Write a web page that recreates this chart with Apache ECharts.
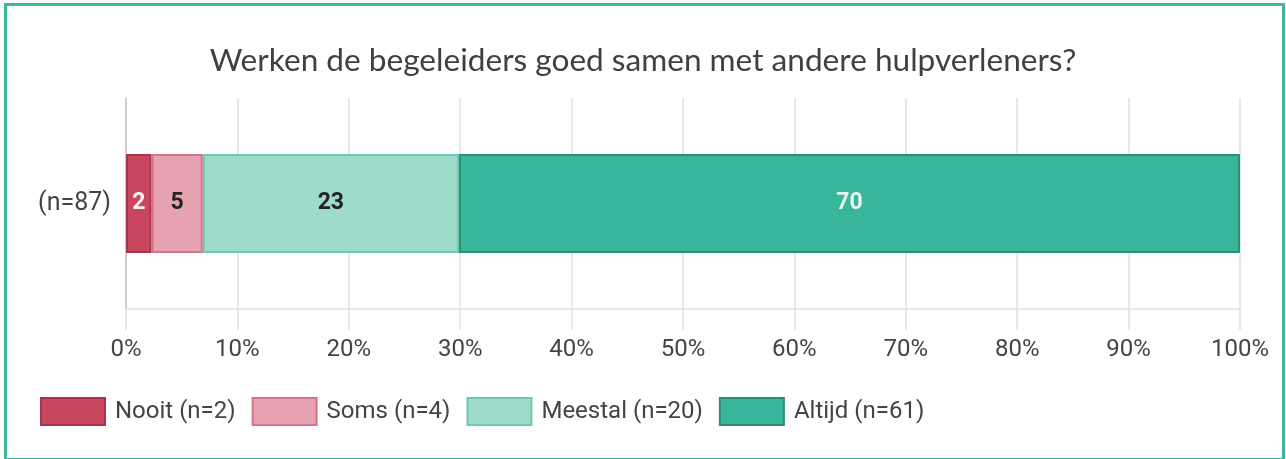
<!DOCTYPE html>
<html>
<head>
<meta charset="utf-8">
<script src="https://cdn.jsdelivr.net/npm/echarts@6/dist/echarts.min.js"></script>
<style>
  html, body { margin: 0; padding: 0; width: 1286px; height: 459px; overflow: hidden; background: #fff; }
  #frame { position: absolute; left: 4px; top: 3px; width: 1281px; height: 458px; border: 3px solid #3db89c; box-sizing: border-box; }
  #chart { position: absolute; left: 0; top: 0; width: 1286px; height: 459px; }
</style>
</head>
<body>
<div id="frame"></div>
<div id="chart"></div>
<script>
  // gegevens
  var TITLE = "Werken de begeleiders goed samen met andere hulpverleners?";
  var CATEGORIES = ["(n=87)"];
  var ANSWERS = ["Nooit", "Soms", "Meestal", "Altijd"];
  var COUNTS = [2, 4, 20, 61];
  var TICKS = ["0%", "10%", "20%", "30%", "40%", "50%", "60%", "70%", "80%", "90%", "100%"];

  var FILLS = ["#c8475e", "#e6a2ae", "#9fdbca", "#38b59a"];
  var BORDERS = ["#a8344b", "#d8728a", "#6ecab2", "#2b8f75"];
  var LABEL_COLORS = ["#f4f4f4", "#222222", "#222222", "#e6f4ef"];

  var FONT = "Roboto, 'Liberation Sans', Arial, sans-serif";
  var total = COUNTS.reduce(function (a, b) { return a + b; }, 0);

  var chart = echarts.init(document.getElementById("chart"), null, { renderer: "canvas" });

  chart.setOption({
    backgroundColor: "transparent",
    animation: false,
    title: {
      text: TITLE, left: "center", top: 40,
      textStyle: { fontFamily: "Lato, sans-serif", fontSize: 31.6, fontWeight: "normal", color: "#404040" }
    },
    grid: { left: 126, right: 46, top: 98, bottom: 150 },
    legend: {
      left: 35, top: 392, itemWidth: 64, itemHeight: 27, itemGap: 16,
      icon: "rect",
      data: ANSWERS.map(function (a, i) { return a + " (n=" + COUNTS[i] + ")"; }),
      textStyle: { fontFamily: FONT, fontSize: 24, color: "#444", padding: [0, 0, 0, 5] }
    },
    xAxis: {
      type: "value", min: 0, max: 100, interval: 10,
      axisLine: { show: true, lineStyle: { color: "#e2e2e2", width: 1.5 } },
      axisTick: { show: true, length: 21, lineStyle: { color: "#e2e2e2", width: 1.5 } },
      splitLine: { lineStyle: { color: "#e2e2e2", width: 1.5 } },
      axisLabel: {
        margin: 29, fontFamily: FONT, fontSize: 24, color: "#444",
        formatter: function (v) { return TICKS[Math.round(v / 10)]; }
      }
    },
    yAxis: {
      type: "category", data: CATEGORIES,
      axisLine: { show: true, lineStyle: { color: "#c8c8c8", width: 1.5 } },
      axisTick: { show: false },
      axisLabel: { margin: 15, fontFamily: FONT, fontSize: 25, color: "#444" }
    },
    series: ANSWERS.map(function (a, i) {
      return {
        name: a + " (n=" + COUNTS[i] + ")",
        type: "bar", stack: "tot", barWidth: 99,
        data: [COUNTS[i] / total * 100],
        itemStyle: { color: FILLS[i], borderColor: BORDERS[i], borderWidth: 2 },
        label: {
          show: true, position: "inside",
          fontFamily: FONT, fontSize: 23, fontWeight: "bold", color: LABEL_COLORS[i],
          formatter: function (p) { return Math.round(p.value); }
        }
      };
    })
  });
</script>
</body>
</html>
